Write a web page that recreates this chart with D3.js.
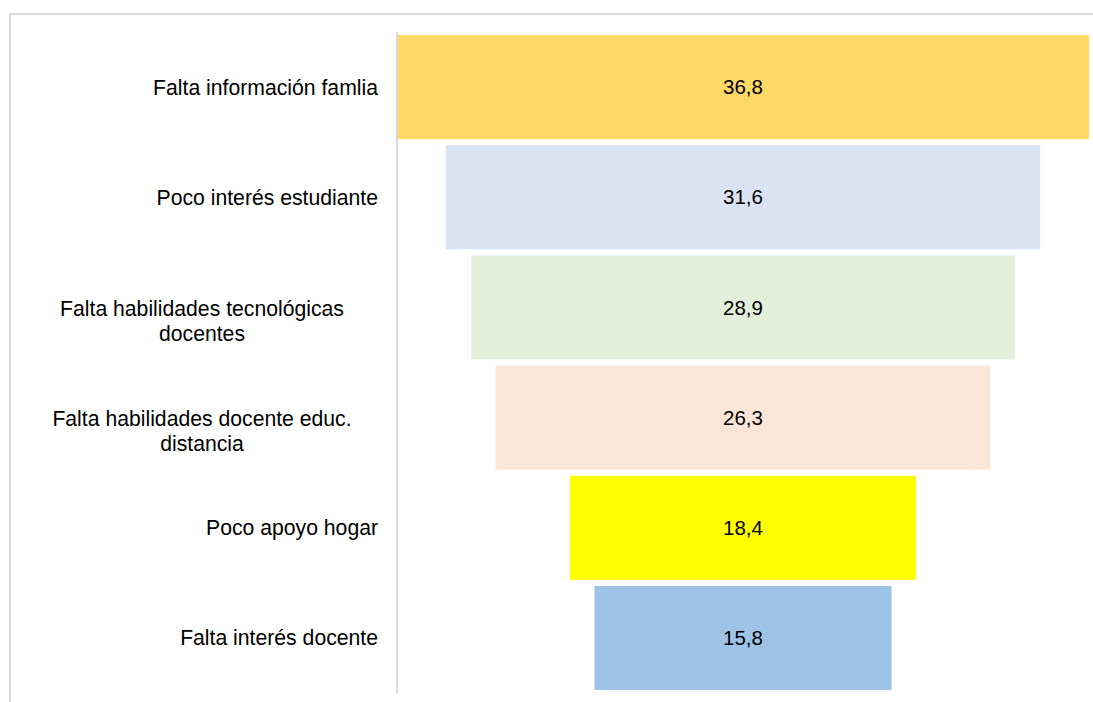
<!DOCTYPE html>
<meta charset="utf-8">
<style>
body { margin: 0; background: #fff; }
text { font-family: "Liberation Sans", Arial, sans-serif; fill: #000; }
</style>
<body>
<script src="https://d3js.org/d3.v7.min.js"></script>
<svg width="1093" height="702"></svg>
<script>

var categories = [
  ["Falta información famlia"],
  ["Poco interés estudiante"],
  ["Falta habilidades tecnológicas", "docentes"],
  ["Falta habilidades docente educ.", "distancia"],
  ["Poco apoyo hogar"],
  ["Falta interés docente"]
];
var values = [36.8, 31.6, 28.9, 26.3, 18.4, 15.8];
var valueLabels = ["36,8", "31,6", "28,9", "26,3", "18,4", "15,8"];
var colors = ["#ffd966", "#dae3f3", "#e2efda", "#fbe5d6", "#ffff00", "#9dc3e6"];

var svg = d3.select("svg");

// chart border (top and left edges visible)
svg.append("line")
    .attr("x1", 10).attr("x2", 1093).attr("y1", 14).attr("y2", 14)
    .attr("stroke", "#d9d9d9").attr("stroke-width", 2);
svg.append("line")
    .attr("x1", 10).attr("x2", 10).attr("y1", 14).attr("y2", 702)
    .attr("stroke", "#d9d9d9").attr("stroke-width", 2);

var y = d3.scaleBand()
    .domain(d3.range(values.length))
    .range([32, 693])
    .paddingInner(0.055)
    .paddingOuter(0.0275);

var cx = 743;
var w = d3.scaleLinear()
    .domain([0, 36.8])
    .range([0, 692]);

svg.append("g")
  .selectAll("rect")
  .data(values)
  .join("rect")
    .attr("x", function(d) { return cx - w(d) / 2; })
    .attr("width", function(d) { return w(d); })
    .attr("y", function(d, i) { return y(i); })
    .attr("height", y.bandwidth())
    .attr("fill", function(d, i) { return colors[i]; });

// category axis line
svg.append("line")
    .attr("x1", 397).attr("x2", 397).attr("y1", 32).attr("y2", 693)
    .attr("stroke", "#d9d9d9").attr("stroke-width", 2);

svg.append("g")
  .selectAll("text")
  .data(valueLabels)
  .join("text")
    .attr("x", cx)
    .attr("y", function(d, i) { return y(i) + y.bandwidth() / 2; })
    .attr("dy", "0.35em")
    .attr("text-anchor", "middle")
    .attr("font-size", 20.5)
    .text(function(d) { return d; });

var labels = svg.append("g")
  .selectAll("text")
  .data(categories)
  .join("text")
    .attr("font-size", 21.2)
    .attr("text-anchor", function(d) { return d.length > 1 ? "middle" : "end"; });

labels.each(function(d, i) {
  var t = d3.select(this);
  var mid = y(i) + y.bandwidth() / 2;
  var x = d.length > 1 ? 202 : 378;
  d.forEach(function(line, j) {
    t.append("tspan")
        .attr("x", x)
        .attr("y", mid + (d.length > 1 ? 1 : 0) + j * 25)
        .attr("dy", "0.35em")
        .text(line);
  });
});

</script>
</body>
